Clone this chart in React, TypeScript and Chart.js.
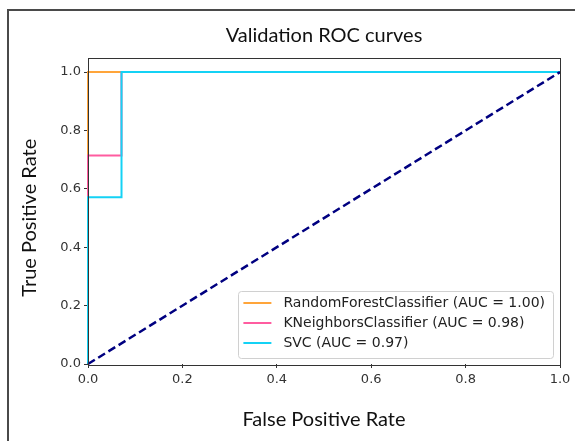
import React, { useEffect, useRef } from "react";
import { Chart, registerables } from "chart.js";

Chart.register(...registerables);

const TITLE = "Validation ROC curves";
const X_LABEL = "False Positive Rate";
const Y_LABEL = "True Positive Rate";

const X_TICKS = [0, 0.2, 0.4, 0.6, 0.8, 1.0];
const Y_TICKS = [0, 0.2, 0.4, 0.6, 0.8, 1.0];

const SERIES_NAMES = [
  "RandomForestClassifier (AUC = 1.00)",
  "KNeighborsClassifier (AUC = 0.98)",
  "SVC (AUC = 0.97)",
];
const SERIES_COLORS = ["#ffa53a", "#ff5ca0", "#14d2f5"];

const RF_FPR = [0, 0, 1];
const RF_TPR = [0, 1, 1];
const KNN_FPR = [0, 0, 0.071, 0.071, 1];
const KNN_TPR = [0, 0.714, 0.714, 1, 1];
const SVC_FPR = [0, 0, 0.071, 0.071, 1];
const SVC_TPR = [0, 0.571, 0.571, 1, 1];
const DIAG_FPR = [0, 1];
const DIAG_TPR = [0, 1];

const toPts = (xs: number[], ys: number[]) => xs.map((x, i) => ({ x, y: ys[i] }));

const TEXT_FONT = "Lato, 'Open Sans', sans-serif";
const TICK_FONT = "'DejaVu Sans', sans-serif";

const framePlugin = {
  id: "framePlugin",
  afterDatasetsDraw(chart: any) {
    const { ctx, chartArea: a } = chart;
    ctx.save();
    ctx.strokeStyle = "#333";
    ctx.lineWidth = 1;
    ctx.strokeRect(Math.round(a.left) + 0.5, Math.round(a.top) + 0.5, Math.round(a.right - a.left), Math.round(a.bottom - a.top));
    ctx.restore();
  },
  afterDraw(chart: any) {
    const { ctx, chartArea: a } = chart;
    ctx.save();
    ctx.translate(30, (a.top + a.bottom) / 2 + 7);
    ctx.rotate(-Math.PI / 2);
    ctx.font = `20px ${TEXT_FONT}`;
    ctx.fillStyle = "#111";
    ctx.textAlign = "center";
    ctx.textBaseline = "middle";
    ctx.fillText(Y_LABEL, 0, 0);
    ctx.restore();

    const ds = chart.data.datasets.filter((d: any) => d.showInLegend);
    ctx.save();
    ctx.font = `14px ${TICK_FONT}`;
    const maxW = Math.max(...ds.map((d: any) => ctx.measureText(d.label).width));
    const rowH = 20;
    const boxW = 5 + 28 + 12 + maxW + 8;
    const boxH = 12 + rowH * (ds.length - 1) + 15;
    const right = a.right - 7;
    const bottom = a.bottom - 6;
    const left = right - boxW;
    const top = bottom - boxH;
    ctx.fillStyle = "rgba(255,255,255,0.85)";
    ctx.strokeStyle = "#d0d0d0";
    ctx.lineWidth = 1;
    ctx.beginPath();
    (ctx as any).roundRect(Math.round(left) + 0.5, Math.round(top) + 0.5, Math.round(boxW), Math.round(boxH), 3);
    ctx.fill();
    ctx.stroke();
    ds.forEach((d: any, i: number) => {
      const cy = top + 12 + i * rowH;
      ctx.strokeStyle = d.borderColor;
      ctx.lineWidth = 2;
      ctx.beginPath();
      ctx.moveTo(left + 5, cy);
      ctx.lineTo(left + 33, cy);
      ctx.stroke();
      ctx.fillStyle = "#222";
      ctx.textBaseline = "middle";
      ctx.textAlign = "left";
      ctx.fillText(d.label, left + 45, cy);
    });
    ctx.restore();
  },
};

export default function App() {
  const ref = useRef<HTMLCanvasElement | null>(null);
  useEffect(() => {
    if (!ref.current) return;
    const lineDs = (label: string, xs: number[], ys: number[], color: string, order: number) => ({
      label,
      data: toPts(xs, ys),
      borderColor: color,
      backgroundColor: color,
      borderWidth: 2,
      pointRadius: 0,
      tension: 0,
      fill: false,
      clip: 5,
      order,
      showInLegend: true,
    });
    const chart = new Chart(ref.current, {
      type: "line",
      data: {
        datasets: [
          lineDs(SERIES_NAMES[0], RF_FPR, RF_TPR, SERIES_COLORS[0], 4),
          lineDs(SERIES_NAMES[1], KNN_FPR, KNN_TPR, SERIES_COLORS[1], 3),
          lineDs(SERIES_NAMES[2], SVC_FPR, SVC_TPR, SERIES_COLORS[2], 2),
          {
            label: "chance",
            data: toPts(DIAG_FPR, DIAG_TPR),
            borderColor: "#000080",
            borderWidth: 2.5,
            borderDash: [8, 4],
            pointRadius: 0,
            fill: false,
            clip: 5,
            order: 1,
            showInLegend: false,
          } as any,
        ],
      },
      options: {
        animation: false,
        responsive: false,
        maintainAspectRatio: false,
        layout: { padding: { left: 0, right: 15, top: 0, bottom: 0 } },
        plugins: {
          legend: { display: false },
          tooltip: { enabled: false },
          title: {
            display: true,
            text: TITLE,
            fullSize: false,
            color: "#111",
            font: { family: TEXT_FONT, size: 20, weight: "normal", lineHeight: 1.2 },
            padding: { top: 24, bottom: 9.5 },
          },
        },
        scales: {
          x: {
            type: "linear",
            min: 0,
            max: 1,
            afterBuildTicks: (s: any) => {
              s.ticks = X_TICKS.map((v) => ({ value: v }));
            },
            afterFit: (s: any) => {
              s.height = 77;
            },
            ticks: {
              callback: (v: any) => Number(v).toFixed(1),
              font: { family: TICK_FONT, size: 13 },
              color: "#333",
              padding: 4,
              maxRotation: 0,
            },
            grid: { drawOnChartArea: false, drawTicks: true, tickLength: 4, tickColor: "#333" },
            border: { display: false },
            title: {
              display: true,
              text: X_LABEL,
              color: "#111",
              font: { family: TEXT_FONT, size: 20, lineHeight: 1.2 },
              padding: { top: 0, bottom: 9 },
            },
          },
          y: {
            type: "linear",
            min: 0,
            max: 1.05,
            afterBuildTicks: (s: any) => {
              s.ticks = Y_TICKS.map((v) => ({ value: v }));
            },
            afterFit: (s: any) => {
              s.width = 88;
            },
            ticks: {
              callback: (v: any) => Number(v).toFixed(1),
              font: { family: TICK_FONT, size: 13 },
              color: "#333",
              padding: 3,
            },
            grid: { drawOnChartArea: false, drawTicks: true, tickLength: 4, tickColor: "#333" },
            border: { display: false },
            title: { display: false, text: Y_LABEL },
          },
        },
      },
      plugins: [framePlugin],
    });
    return () => chart.destroy();
  }, []);

  return (
    <div style={{ position: "absolute", left: 0, top: 0, width: 575, height: 441, background: "#fff" }}>
      <canvas ref={ref} width={575} height={441} style={{ position: "absolute", left: 0, top: 0, width: 575, height: 441 }} />
      <div
        style={{
          position: "absolute",
          left: 7,
          top: 9,
          width: 566,
          height: 430,
          borderLeft: "2px solid #4a4a4a",
          borderTop: "2px solid #4a4a4a",
          pointerEvents: "none",
        }}
      />
    </div>
  );
}
